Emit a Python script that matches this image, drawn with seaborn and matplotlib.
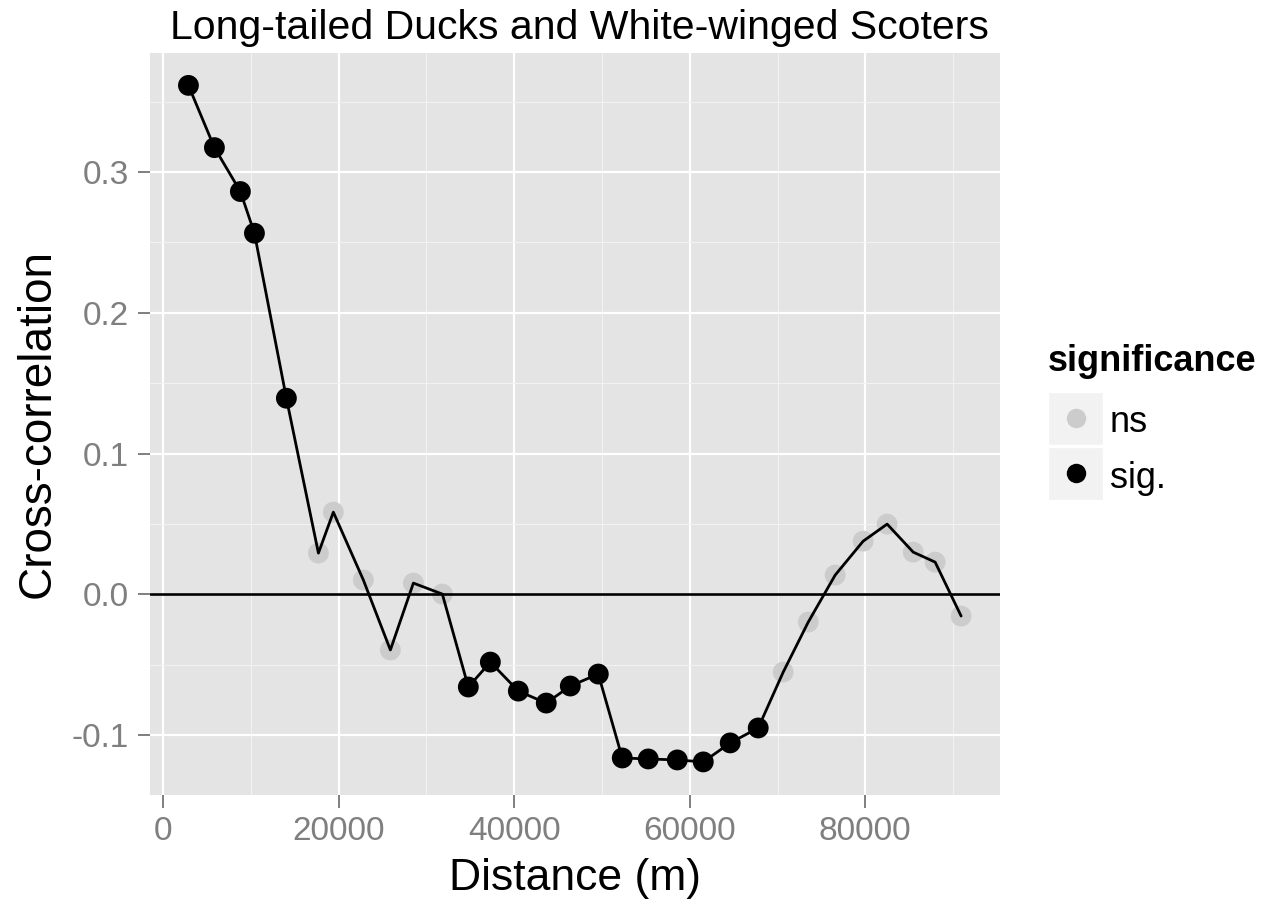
import matplotlib
matplotlib.use("Agg")
import matplotlib.pyplot as plt
from matplotlib.patches import Rectangle
from matplotlib.lines import Line2D
from matplotlib.ticker import FixedLocator
import pandas as pd
import seaborn as sns

# Cross-correlation by lag distance, flagged by significance
distance = [2880, 5840, 8800, 10400, 14040, 17690, 19390, 22810, 25890, 28510,
            31810, 34770, 37280, 40470, 43650, 46390, 49580, 52310, 55270, 58580,
            61540, 64610, 67800, 70650, 73500, 76570, 79760, 82490, 85460, 87960,
            90920]
cross_corr = [0.3615, 0.3173, 0.2861, 0.2565, 0.1393, 0.0293, 0.0584, 0.0102,
              -0.0395, 0.0080, 0.0002, -0.0658, -0.0481, -0.0687, -0.0772,
              -0.0651, -0.0566, -0.1162, -0.1169, -0.1176, -0.1190, -0.1055,
              -0.0949, -0.0552, -0.0197, 0.0137, 0.0378, 0.0499, 0.0300, 0.0229,
              -0.0154]
significance = ["sig."] * 5 + ["ns"] * 6 + ["sig."] * 12 + ["ns"] * 8

levels = ["ns", "sig."]
level_colors = {"ns": "#CCCCCC", "sig.": "#000000"}

x_ticks = [0, 20000, 40000, 60000, 80000]
x_tick_labels = ["0", "20000", "40000", "60000", "80000"]
y_ticks = [-0.1, 0.0, 0.1, 0.2, 0.3]
y_tick_labels = ["-0.1", "0.0", "0.1", "0.2", "0.3"]
x_minor = [10000, 30000, 50000, 70000, 90000]
y_minor = [-0.05, 0.05, 0.15, 0.25, 0.35]

title = "Long-tailed Ducks and White-winged Scoters"
x_label = "Distance (m)"
y_label = "Cross-correlation"
legend_title = "significance"

df = pd.DataFrame({"distance": distance, "cross_corr": cross_corr,
                   "significance": significance})

sns.set_theme(style="darkgrid")
plt.rcParams["font.family"] = ["Liberation Sans", "DejaVu Sans"]
plt.rcParams["axes.unicode_minus"] = False

W, H = 1268, 905
fig = plt.figure(figsize=(W / 100, H / 100), dpi=100)
fig.patch.set_facecolor("white")


def fx(px):
    return px / W


def fy(py):
    return 1 - py / H


# panel occupies pixels x 150..1000, y 53..795
ax = fig.add_axes([fx(150), fy(795), (1000 - 150) / W, (795 - 53) / H])
ax.set_facecolor("#E4E4E4")
for s in ax.spines.values():
    s.set_visible(False)

sns.scatterplot(data=df, x="distance", y="cross_corr", hue="significance",
                hue_order=levels, palette=level_colors, s=225, linewidth=0,
                legend=False, ax=ax, zorder=2)
sns.lineplot(data=df, x="distance", y="cross_corr", color="black",
             linewidth=2.0, estimator=None, errorbar=None, ax=ax, zorder=3)
ax.axhline(0, color="black", linewidth=1.9, zorder=3)

ax.set_xlim(-1500, 95350)
ax.set_ylim(-0.1425, 0.3845)

ax.xaxis.set_major_locator(FixedLocator(x_ticks))
ax.yaxis.set_major_locator(FixedLocator(y_ticks))
ax.xaxis.set_minor_locator(FixedLocator(x_minor))
ax.yaxis.set_minor_locator(FixedLocator(y_minor))
ax.set_xticklabels(x_tick_labels)
ax.set_yticklabels(y_tick_labels)

ax.set_axisbelow(True)
ax.grid(which="major", color="white", linewidth=1.6)
ax.grid(which="minor", color="#F2F2F2", linewidth=0.8)

ax.tick_params(which="major", length=9, width=1.4, color="#7F7F7F",
               labelcolor="#7F7F7F", labelsize=24, pad=6,
               bottom=True, left=True)
ax.tick_params(which="minor", length=0)

ax.set_xlabel(x_label, fontsize=32, color="black")
ax.set_ylabel(y_label, fontsize=33, color="black")
ax.xaxis.set_label_coords(0.5, (795 - 878) / (795 - 53))
ax.xaxis.label.set_va("center")
ax.yaxis.set_label_coords((38 - 150) / (1000 - 150), 0.5)
ax.yaxis.label.set_va("center")

fig.text(fx(579), fy(28), title, fontsize=29.5, ha="center", va="center",
         color="black")

# legend drawn beside the panel
fig.text(fx(1048), fy(371), legend_title, fontsize=26, fontweight="bold",
         ha="left", va="baseline", color="black")
key_tops = [392, 447]
baselines = [432, 488]
for lvl, top, base in zip(levels, key_tops, baselines):
    fig.add_artist(Rectangle((fx(1048), fy(top + 53)), 55 / W, 53 / H,
                             transform=fig.transFigure, facecolor="#F2F2F2",
                             edgecolor="white", linewidth=1))
    fig.add_artist(Line2D([fx(1076)], [fy(top + 26.5)], marker="o",
                          markersize=14, markeredgewidth=0,
                          color=level_colors[lvl], transform=fig.transFigure))
    fig.text(fx(1110), fy(base), lvl, fontsize=26, ha="left",
             va="baseline", color="black")

fig.savefig("out.png", dpi=100)
